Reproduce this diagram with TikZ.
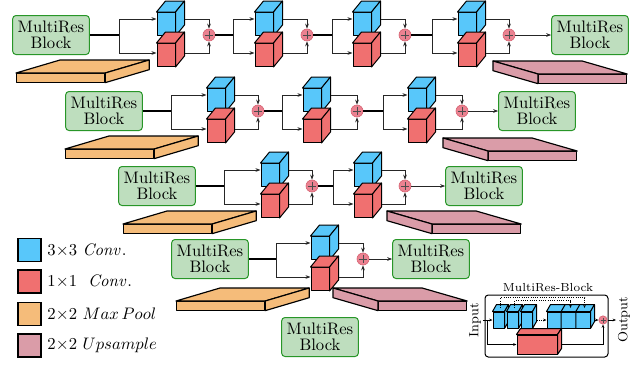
\documentclass[tikz,border=0pt]{standalone}
\usepackage{amsmath}
\usepackage{tikz}
\usetikzlibrary{calc,arrows.meta}
\definecolor{convblue}{RGB}{88,199,250}
\definecolor{convred}{RGB}{240,112,112}
\definecolor{poolorange}{RGB}{245,188,122}
\definecolor{upspink}{RGB}{218,156,168}
\definecolor{blockgreen}{RGB}{190,222,190}
\definecolor{blockborder}{RGB}{40,150,40}
\definecolor{addpink}{RGB}{235,130,145}
\definecolor{addborder}{RGB}{215,100,115}
\tikzstyle{resblock} = [draw=blockborder, fill=blockgreen, rounded corners=2pt, line width=0.6pt, align=center, minimum width=46pt, minimum height=23.4pt, inner sep=1pt, font=\fontsize{10}{9.5}\selectfont]
\tikzstyle{cubeface} = [draw, line width=0.6pt, inner sep=0pt, line join=round]
\tikzstyle{slabface} = [draw, line width=0.7pt, inner sep=0pt, line join=round, minimum width=52.8pt, minimum height=5.1pt, anchor=north west]
\tikzstyle{addnode} = [circle, draw=addborder, fill=addpink, minimum size=7.2pt, inner sep=0pt, line width=0.4pt, path picture={\draw[line width=0.35pt,black!70] ([yshift=-1pt]path picture bounding box.north) -- ([yshift=1pt]path picture bounding box.south) ([xshift=1pt]path picture bounding box.west) -- ([xshift=-1pt]path picture bounding box.east);}]
\tikzstyle{trunk} = [line width=0.75pt]
\tikzstyle{branch} = [line width=0.45pt, draw=black!85]
\tikzstyle{ibranch} = [line width=0.35pt, -{Stealth[length=2pt,width=1.6pt]}]
\tikzstyle{skipline} = [ibranch, densely dotted]
\tikzstyle{legendbox} = [draw, line width=0.7pt, minimum size=13.8pt, inner sep=0pt]
\tikzstyle{insetbox} = [draw, rounded corners=2pt, line width=0.6pt, minimum width=73.8pt, minimum height=37.2pt]

% name, centre, width, height, colour, depth
\newcommand{\mrcube}[6]{%
  \node[cubeface, fill=#5, minimum width=#3*0.6pt, minimum height=#4*0.6pt] (#1) at (#2) {};
  \draw[cubeface, fill=#5] (#1.north west) -- ++(#6) -- ($(#1.north east)+(#6)$) -- (#1.north east) -- cycle;
  \draw[cubeface, fill=#5] (#1.north east) -- ($(#1.north east)+(#6)$) -- ($(#1.south east)+(#6)$) -- (#1.south east) -- cycle;
  \coordinate (#1-b) at ($(#1.east)+(#6)$);
}
% name, split x, cube x, add x, row y
\newcommand{\mrstage}[5]{%
  \coordinate (#1-s) at (#2,#5);
  \coordinate (#1-t) at (#2,#5-16);
  \coordinate (#1-d) at (#2,#5+18);
  \mrcube{#1-u}{#3,#5-11}{18}{23}{convblue}{9,-11}
  \mrcube{#1-l}{#3,#5+20}{18}{23}{convred}{9,-11}
  \node[addnode] (#1-p) at (#4,#5) {};
  \draw[branch,->] (#1-s) -- (#1-t) -- (#1-t -| #1-u.west);
  \draw[branch,->] (#1-s) -- (#1-d) -- (#1-d -| #1-l.west);
  \draw[branch,->] (#1-t -| #1-u-b) -| (#1-p);
  \draw[branch,->] (#1-d -| #1-l-b) -| (#1-p);
}
% name, front corner, colour, depth, side
\newcommand{\mrslab}[5]{%
  \node[slabface, fill=#3] (#1) at (#2) {};
  \draw[slabface, fill=#3] (#1.north west) -- ++(#4) -- ($(#1.north east)+(#4)$) -- (#1.north east) -- cycle;
  \draw[slabface, fill=#3] (#1.north #5) -- ++(#4) -- ($(#1.south #5)+(#4)$) -- (#1.south #5) -- cycle;
}

\begin{document}
\begin{tikzpicture}[x=0.6pt,y=-0.6pt,>={Stealth[length=3pt,width=2.2pt]}]
\useasboundingbox (0,0) rectangle (644,364);

% encoder / decoder blocks
\node[resblock] (in1) at (51,35) {MultiRes\\Block};
\node[resblock] (out1) at (590,35) {MultiRes\\Block};
\node[resblock] (in2) at (104,111) {MultiRes\\Block};
\node[resblock] (out2) at (537,111) {MultiRes\\Block};
\node[resblock] (in3) at (157,186) {MultiRes\\Block};
\node[resblock] (out3) at (484,186) {MultiRes\\Block};
\node[resblock] (in4) at (210,259) {MultiRes\\Block};
\node[resblock] (out4) at (431,259) {MultiRes\\Block};
\node[resblock] (bottom) at (320,337) {MultiRes\\Block};

% res paths
\mrstage{a1}{119}{166}{209}{35}
\mrstage{a2}{233}{264}{307}{35}
\mrstage{a3}{332}{362}{405}{35}
\mrstage{a4}{432}{467}{509}{35}
\draw[trunk] (in1) -- (a1-s);
\draw[trunk] (a1-p) -- (a2-s);
\draw[trunk] (a2-p) -- (a3-s);
\draw[trunk] (a3-p) -- (a4-s);
\draw[branch,->] (a4-p) -- (out1);

\mrstage{b1}{171}{216}{258}{111}
\mrstage{b2}{282}{312}{357}{111}
\mrstage{b3}{383}{417}{462}{111}
\draw[trunk] (in2) -- (b1-s);
\draw[trunk] (b1-p) -- (b2-s);
\draw[trunk] (b2-p) -- (b3-s);
\draw[branch,->] (b3-p) -- (out2);

\mrstage{c1}{224}{270}{312}{186}
\mrstage{c2}{333}{363}{405}{186}
\draw[trunk] (in3) -- (c1-s);
\draw[trunk] (c1-p) -- (c2-s);
\draw[branch,->] (c2-p) -- (out3);

\mrstage{d1}{276}{320}{363}{259}
\draw[trunk] (in4) -- (d1-s);
\draw[branch,->] (d1-p) -- (out4);

% pooling and upsampling
\mrslab{pool1}{16,73}{poolorange}{44,-13}{east}
\mrslab{pool2}{65,149}{poolorange}{44,-13}{east}
\mrslab{pool3}{123,224}{poolorange}{44,-13}{east}
\mrslab{pool4}{176,301}{poolorange}{44,-13}{east}
\mrslab{up1}{538,74}{upspink}{-45,-13}{west}
\mrslab{up2}{488,151}{upspink}{-45,-13}{west}
\mrslab{up3}{432,224}{upspink}{-45,-13}{west}
\mrslab{up4}{378,301}{upspink}{-45,-13}{west}

% legend
\node[legendbox, fill=convblue] (key1) at (29.5,250) {};
\node[legendbox, fill=convred] (key2) at (29.5,281.5) {};
\node[legendbox, fill=poolorange] (key3) at (29.5,314) {};
\node[legendbox, fill=upspink] (key4) at (29.5,345.5) {};
\node[anchor=west] (key1-txt) at (key1.east) {$3{\times}3\ \mathit{Conv.}$};
\node[anchor=west] (key2-txt) at (key2.east) {$1{\times}1\ \ \mathit{Conv.}$};
\node[anchor=west] (key3-txt) at (key3.east) {$2{\times}2\ Max\,Pool$};
\node[anchor=west] (key4-txt) at (key4.east) {$2{\times}2\ Upsample$};

% MultiRes block inset
\node[insetbox] (mrb) at (546.5,326) {};
\node[font=\scriptsize] (mrb-title) at (548,288) {MultiRes-Block};
\node[font=\footnotesize, rotate=90, inner sep=1pt] (mrb-in) at (475,320) {Input};
\node[font=\footnotesize, rotate=90, inner sep=1pt] (mrb-out) at (624,320) {Output};
\mrcube{i1}{498.5,320}{11}{16}{convblue}{4,-7}
\mrcube{i2}{512.5,320}{11}{16}{convblue}{4,-7}
\mrcube{i3}{526.5,320}{11}{16}{convblue}{4,-7}
\mrcube{ib}{568.5,320}{43}{16}{convblue}{4,-7}
\foreach \k in {1,2}
  \draw[cubeface] ($(ib.south west)!\k/3!(ib.south east)$) -- ($(ib.north west)!\k/3!(ib.north east)$) -- ++(4,-7);
\mrcube{ired}{537,344.5}{40}{19}{convred}{4,-6}
\node[addnode, minimum size=5pt] (iadd) at (603,320) {};
\coordinate (isplit) at (487,320);
\draw[ibranch] (mrb-in.south) -- (i1.west);
\draw[ibranch] (isplit) |- (ired.west);
\draw[skipline] (i3.east -| i3-b) -- (ib.west);
\draw[skipline] ($(i1.north)+(2,-3.5)$) |- ($(ib.north)+(16,-14)$) -- ($(ib.north)+(16,-3.5)$);
\draw[skipline] ($(i2.north)+(2,-3.5)$) |- ($(ib.north)+(2,-11)$) -- ($(ib.north)+(2,-3.5)$);
\draw[ibranch] (ib.east -| ib-b) -- (iadd);
\draw[ibranch] (ired.east -| ired-b) -| (iadd);
\draw[ibranch] (iadd) -- (mrb-out.north);
\end{tikzpicture}
\end{document}
